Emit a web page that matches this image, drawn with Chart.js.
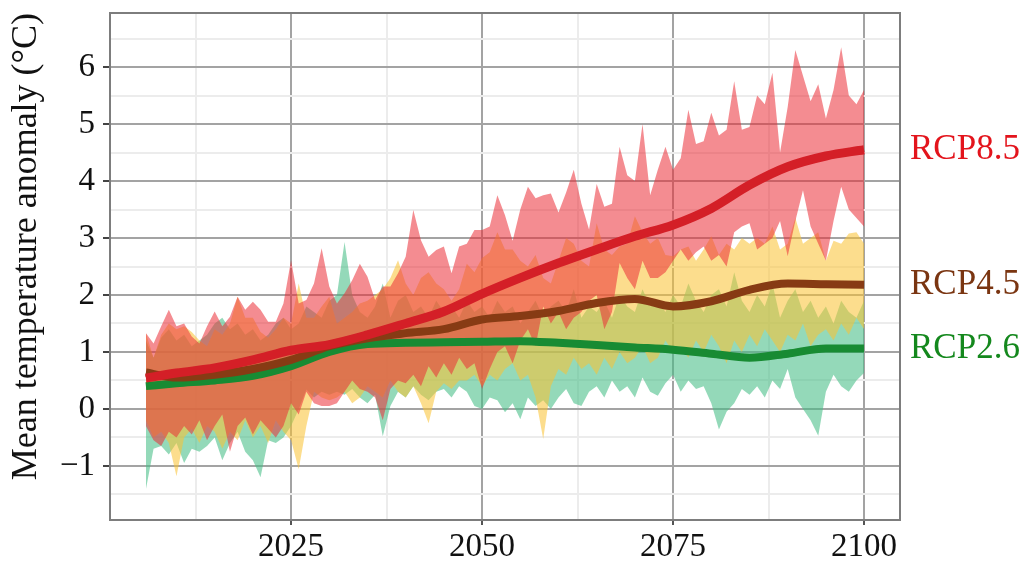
<!DOCTYPE html>
<html>
<head>
<meta charset="utf-8">
<script src="https://cdn.jsdelivr.net/npm/chart.js@4/dist/chart.umd.min.js"></script>
<style>
  html, body { margin: 0; padding: 0; background: #ffffff; }
  #wrap { width: 1019px; height: 564px; }
</style>
</head>
<body>
<div id="wrap"><canvas id="c" width="1019" height="564"></canvas></div>
<script>
// Annual projection years for the spread envelopes
const years = Array.from({ length: 95 }, (_, i) => 2006 + i);

// Envelope of the ensemble, RCP8.5
const hi85 = [1.33, 1.15, 1.45, 1.74, 1.45, 1.5, 1.27, 1.15, 1.45, 1.71,
  1.45, 1.62, 1.97, 1.74, 1.88, 1.74, 1.53, 1.53, 1.85, 2.61,
  1.85, 1.91, 2.2, 2.82, 2.15, 1.85, 2.03, 2.26, 2.55, 2.32,
  1.91, 2.15, 2.15, 2.38, 2.67, 3.49, 2.96, 2.67, 2.79, 2.85,
  2.38, 2.85, 2.9, 3.14, 3.14, 3.2, 3.75, 3.4, 2.95, 3.5,
  3.9, 3.7, 3.75, 3.78, 3.45, 3.8, 4.2, 3.6, 3.15, 3.95,
  3.55, 3.6, 4.6, 4.1, 4.0, 5.0, 3.75, 4.2, 4.6, 4.2,
  4.4, 5.25, 4.65, 4.7, 5.2, 4.8, 4.9, 5.75, 4.9, 4.95,
  5.5, 5.35, 5.9, 4.5, 5.3, 6.3, 5.85, 5.4, 5.7, 5.1,
  5.6, 6.35, 5.5, 5.35, 5.6];
const lo85 = [-0.3, -0.55, -0.65, -0.4, -0.5, -0.3, -0.45, -0.2, -0.55, -0.3,
  -0.1, -0.75, -0.3, -0.15, -0.45, -0.2, -0.35, -0.5, -0.3, 0.1,
  -0.1, 0.3, 0.1, 0.05, 0.05, 0.1, 0.3, 0.5, 0.35, 0.3,
  0.2, -0.2, 0.35, 0.5, 0.45, 0.6, 0.4, 0.75, 0.55, 0.8,
  0.6, 0.9, 0.7, 0.8, 0.35, 0.7, 1.0, 1.1, 0.8, 1.2,
  1.4, 1.1, 1.8, 1.5, 1.7, 1.4, 1.6, 1.7, 1.9, 2.0,
  1.4, 1.7, 2.56, 2.3, 2.1, 2.6, 2.3, 2.3, 2.4, 2.6,
  2.8, 2.6, 2.75, 2.85, 2.6, 2.7, 2.5, 3.1, 3.2, 3.26,
  2.8, 2.9, 3.0, 3.3, 2.68, 3.3, 3.84, 3.2, 2.9, 2.6,
  3.3, 3.9, 3.5, 3.35, 3.2];

// Envelope of the ensemble, RCP4.5
const hi45 = [1.33, 0.9, 1.3, 1.5, 1.4, 1.45, 1.35, 1.2, 1.1, 1.4,
  1.3, 1.5, 1.97, 1.6, 1.6, 1.35, 1.25, 1.4, 1.6, 1.5,
  2.2, 1.6, 1.6, 1.8, 1.97, 1.5, 1.6, 1.7, 1.85, 1.9,
  2.0, 2.1, 2.3, 2.61, 2.2, 2.0, 2.3, 2.4, 2.2, 2.1,
  1.9, 2.1, 2.55, 2.4, 2.65, 2.75, 3.1, 2.8, 2.8, 2.6,
  2.5, 2.7, 2.3, 2.2, 2.6, 3.0, 2.9, 2.6, 2.5, 3.26,
  2.8, 2.7, 2.85, 2.9, 3.38, 3.1, 2.9, 3.0, 2.7, 2.68,
  2.8, 2.85, 2.6, 2.8, 3.03, 2.7, 2.9, 2.8, 3.0, 2.9,
  3.0, 2.9, 3.2, 2.8, 2.9, 3.35, 2.9, 3.0, 3.1, 2.6,
  2.95, 2.9, 3.08, 3.1, 2.9];
const lo45 = [-0.2, -0.5, -0.4, -0.6, -1.18, -0.5, -0.35, -0.6, -0.3, -0.4,
  -0.7, -0.4, -0.55, -0.2, -0.5, -0.3, -0.6, -0.2, -0.4, -0.55,
  -1.06, -0.3, 0.3, 0.2, 0.15, 0.2, 0.3, 0.1, 0.2, 0.4,
  0.3, 0.2, 0.5, 0.3, 0.2, 0.4, 0.1, -0.25, 0.3, 0.45,
  0.35, 0.5, 0.5, 0.6, 0.4, 0.6, 0.5, 0.7, 0.8, 0.5,
  0.6, 0.2, -0.53, 0.4, 0.7, 0.6, 0.9, 0.7, 0.8, 0.6,
  0.9, 0.7, 1.0, 0.8, 0.9, 1.1, 0.8, 0.9, 1.2, 1.0,
  1.1, 0.9, 1.2, 1.0, 1.3, 1.1, 0.8, 1.2, 1.0, 1.3,
  1.1, 1.4, 1.2, 1.0, 1.3, 1.2, 1.5, 1.1, 1.3, 1.4,
  1.2, 1.5, 1.3, 1.6, 1.4];

// Envelope of the ensemble, RCP2.6
const hi26 = [1.2, 0.9, 1.25, 1.4, 1.2, 1.3, 1.1, 1.2, 1.3, 1.5,
  1.6, 1.4, 1.5, 1.3, 1.4, 1.2, 1.3, 1.5, 1.6, 1.4,
  1.5, 1.8, 1.7, 1.6, 1.9, 2.0, 2.93, 2.0, 1.7, 1.6,
  1.8, 2.2, 1.6, 1.9, 2.0, 1.7, 1.8, 1.6, 1.9, 1.7,
  1.8, 1.6, 1.9, 1.7, 1.8, 1.6, 1.9, 1.7, 1.8, 1.5,
  1.7, 1.9, 1.6, 1.8, 1.9, 1.7, 2.1, 1.6, 1.8, 1.7,
  1.9, 1.6, 2.0, 1.8, 1.7, 2.1, 1.8, 1.9, 1.7, 2.0,
  1.8, 2.2, 1.9, 1.7, 2.0, 2.1, 1.8, 2.4, 1.9, 1.7,
  2.0, 1.8, 2.2, 1.6, 1.9, 2.1, 1.7, 1.9, 1.6, 1.8,
  1.5, 1.9, 1.7, 1.6, 1.9];
const lo26 = [-1.41, -0.7, -0.65, -0.8, -0.6, -0.95, -0.7, -0.75, -0.65, -0.5,
  -0.9, -0.6, -0.4, -0.75, -0.9, -1.2, -0.55, -0.6, -0.5, -0.3,
  0.0, 0.34, 0.2, 0.3, 0.25, 0.3, 0.25, 0.35, 0.2, 0.1,
  0.25, -0.48, 0.05, 0.3, 0.2, 0.4, 0.25, 0.15, 0.3, 0.35,
  0.2, 0.4, 0.3, 0.05, 0.0, 0.2, 0.15, -0.06, 0.1, -0.18,
  0.2, 0.05, 0.15, 0.0, 0.2, 0.35, 0.1, 0.05, 0.3, 0.4,
  0.2, 0.5, 0.3, 0.4, 0.2, 0.55, 0.3, 0.23, 0.45, 0.6,
  0.3, 0.5, 0.35, 0.4, 0.1, -0.36, -0.05, 0.1, 0.35, 0.25,
  0.4, 0.2, 0.5, 0.35, 0.7, 0.2, 0.0, -0.2, -0.47, 0.3,
  0.6, 0.4, 0.3, 0.5, 0.63];

// Ensemble means
const meanYears = [2006, 2010, 2015, 2020, 2025, 2030, 2035, 2040, 2045, 2050,
  2055, 2060, 2065, 2070, 2075, 2080, 2085, 2090, 2095, 2100];
const mean85 = [0.54, 0.63, 0.72, 0.86, 1.03, 1.13, 1.3, 1.5, 1.71, 2.02,
  2.3, 2.56, 2.8, 3.03, 3.23, 3.52, 3.93, 4.25, 4.44, 4.55];
const mean45 = [0.64, 0.55, 0.6, 0.7, 0.86, 1.1, 1.24, 1.33, 1.4, 1.57,
  1.63, 1.72, 1.86, 1.93, 1.8, 1.89, 2.09, 2.2, 2.19, 2.18];
const mean26 = [0.4, 0.45, 0.5, 0.58, 0.75, 1.0, 1.14, 1.16, 1.17, 1.18,
  1.19, 1.16, 1.12, 1.08, 1.04, 0.97, 0.9, 0.97, 1.06, 1.06];

const scenarioNames = ['RCP8.5', 'RCP4.5', 'RCP2.6'];
const xTicks = [2012.5, 2025, 2037.5, 2050, 2062.5, 2075, 2087.5, 2100];
const yTicks = [-1.5, -1, -0.5, 0, 0.5, 1, 1.5, 2, 2.5, 3, 3.5, 4, 4.5, 5, 5.5, 6, 6.5];

const toPoints = (xs, ys) => ys.map((v, i) => ({ x: xs[i], y: v }));
const SERIF = '"Liberation Serif", "Times New Roman", serif';

function meanLine(label, xs, ys, color, width) {
  return {
    label, data: toPoints(xs, ys), borderColor: color, borderWidth: width,
    pointRadius: 0, fill: false, cubicInterpolationMode: 'monotone', borderCapStyle: 'butt'
  };
}
function envelope(label, ys, color, fillTo) {
  return {
    label, data: toPoints(years, ys), borderWidth: 0, borderColor: 'rgba(0,0,0,0)',
    backgroundColor: color, pointRadius: 0, fill: fillTo, tension: 0
  };
}

// Plot frame and scenario labels at the end of each mean line
const frameAndLabels = {
  id: 'frameAndLabels',
  afterDraw(chart) {
    const { ctx, chartArea: a, scales } = chart;
    ctx.save();
    ctx.strokeStyle = '#7d7d7d';
    ctx.lineWidth = 2;
    ctx.strokeRect(a.left, a.top, a.right - a.left, a.bottom - a.top);
    ctx.font = '35px ' + SERIF;
    ctx.textAlign = 'left';
    ctx.textBaseline = 'middle';
    const ends = [mean85, mean45, mean26];
    const colors = ['#e3141c', '#7a3511', '#14881d'];
    scenarioNames.forEach((name, i) => {
      const arr = ends[i];
      ctx.fillStyle = colors[i];
      ctx.fillText(name, a.right + 10, scales.y.getPixelForValue(arr[arr.length - 1]));
    });
    ctx.restore();
  }
};

const isMajorX = v => Number.isInteger(v);
const isMajorY = v => Number.isInteger(v);

new Chart(document.getElementById('c'), {
  type: 'line',
  data: {
    datasets: [
      meanLine('RCP8.5', meanYears, mean85, '#d41f27', 9),
      meanLine('RCP4.5', meanYears, mean45, '#873b14', 8),
      meanLine('RCP2.6', meanYears, mean26, '#188b33', 8),
      envelope('RCP8.5 max', hi85, 'rgba(235,45,55,0.55)', '+1'),
      envelope('RCP8.5 min', lo85, 'rgba(0,0,0,0)', false),
      envelope('RCP4.5 max', hi45, 'rgba(250,194,52,0.56)', '+1'),
      envelope('RCP4.5 min', lo45, 'rgba(0,0,0,0)', false),
      envelope('RCP2.6 max', hi26, 'rgba(70,190,135,0.58)', '+1'),
      envelope('RCP2.6 min', lo26, 'rgba(0,0,0,0)', false)
    ]
  },
  options: {
    responsive: false,
    animation: false,
    devicePixelRatio: 1,
    layout: { padding: { top: 13, right: 119, left: 0, bottom: 0 } },
    plugins: { legend: { display: false }, tooltip: { enabled: false } },
    scales: {
      x: {
        type: 'linear', min: 2001.3, max: 2104.7,
        afterBuildTicks: s => { s.ticks = xTicks.map(v => ({ value: v })); },
        afterFit: s => { s.height = 44; s.paddingLeft = 0; s.paddingRight = 0; },
        grid: {
          color: c => isMajorX(c.tick.value) ? '#a3a3a3' : '#ececec',
          lineWidth: 2, tickLength: 5,
          tickColor: c => isMajorX(c.tick.value) ? '#555555' : 'rgba(0,0,0,0)'
        },
        border: { display: true, color: '#7d7d7d', width: 2 },
        ticks: {
          autoSkip: false, maxRotation: 0, padding: 3, color: '#111111',
          font: { family: SERIF, size: 33 },
          callback: v => isMajorX(v) ? String(v) : ''
        }
      },
      y: {
        type: 'linear', min: -1.95, max: 6.95,
        afterBuildTicks: s => { s.ticks = yTicks.map(v => ({ value: v })); },
        afterFit: s => { s.width = 110; s.paddingTop = 0; s.paddingBottom = 0; },
        grid: {
          color: c => isMajorY(c.tick.value) ? '#a3a3a3' : '#ececec',
          lineWidth: 2, tickLength: 7,
          tickColor: c => isMajorY(c.tick.value) ? '#444444' : 'rgba(0,0,0,0)'
        },
        border: { display: true, color: '#7d7d7d', width: 2 },
        ticks: {
          autoSkip: false, padding: 8, color: '#111111',
          font: { family: SERIF, size: 33 },
          callback: v => isMajorY(v) ? (v < 0 ? '\u2212' + Math.abs(v) : String(v)) : ''
        },
        title: {
          display: true, text: 'Mean temperature anomaly (°C)', align: 'end',
          color: '#111111', font: { family: SERIF, size: 36 }, padding: { top: 5, bottom: 0 }
        }
      }
    }
  },
  plugins: [frameAndLabels]
});
</script>
</body>
</html>
